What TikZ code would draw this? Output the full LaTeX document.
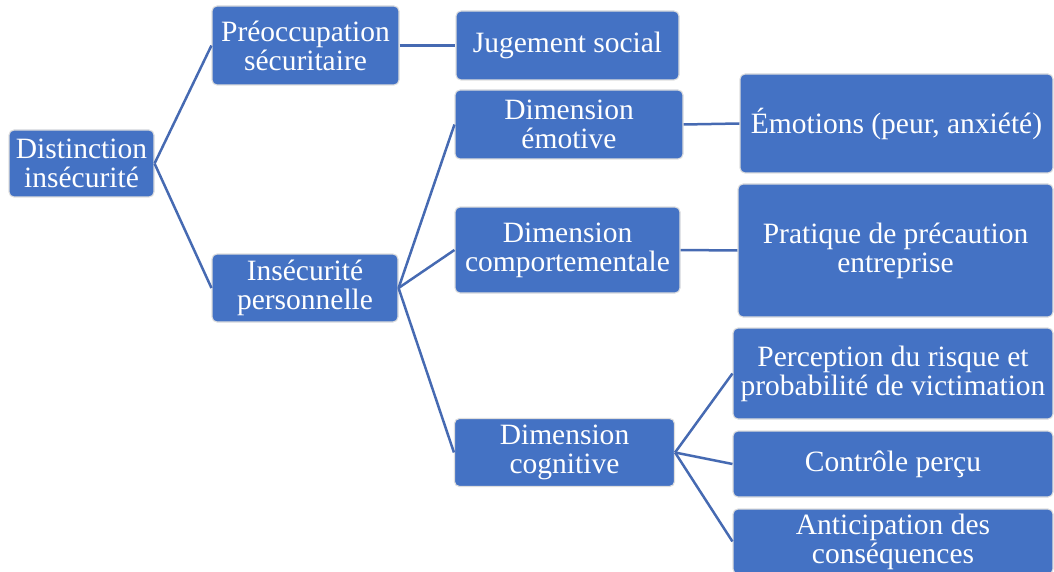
\documentclass[tikz,border=0pt]{standalone}
\usepackage{fontspec}
\setmainfont{Liberation Serif}
\definecolor{boxblue}{RGB}{68,114,196}
\definecolor{lineblue}{RGB}{70,106,178}
\definecolor{rimgray}{RGB}{222,222,222}
\begin{document}
\begin{tikzpicture}[x=1pt,y=-1pt,
  box/.style={draw=rimgray, line width=1.1pt, fill=boxblue, rounded corners=5pt,
    text=white, align=center, inner sep=2pt,
    font=\fontsize{29.5}{29}\selectfont},
  link/.style={draw=lineblue, line width=2.5pt}]
\useasboundingbox (0,0) rectangle (1054,572);
% column 1
\node[box, minimum width=145, minimum height=67] (dist) at (81.5,163.5) {Distinction\\insécurité};
% column 2
\node[box, minimum width=187, minimum height=79] (preo) at (305.5,45.5) {Préoccupation\\sécuritaire};
\node[box, minimum width=186, minimum height=68] (insp) at (305,288) {Insécurité\\personnelle};
% column 3
\node[box, minimum width=223, minimum height=69] (juge) at (567.5,45.5) {Jugement social};
\node[box, minimum width=228, minimum height=69] (demo) at (569,124.5) {Dimension\\émotive};
\node[box, minimum width=225, minimum height=86] (dcomp) at (567.5,250) {Dimension\\comportementale};
\node[box, minimum width=220, minimum height=68] (dcog) at (564.5,452.5) {Dimension\\cognitive};
% column 4
\node[box, minimum width=313, minimum height=99] (emo) at (896.5,123.5) {Émotions (peur, anxiété)};
\node[box, minimum width=315, minimum height=133] (prat) at (895.5,250.5) {Pratique de précaution\\entreprise};
\node[box, minimum width=320, minimum height=91] (perc) at (893,373.5) {Perception du risque et\\probabilité de victimation};
\node[box, minimum width=320, minimum height=66] (ctrl) at (893,464) {Contrôle perçu};
\node[box, minimum width=320, minimum height=65] (anti) at (893,541.5) {Anticipation des\\conséquences};
% connectors
\draw[link] (dist.east) -- (preo.west);
\draw[link] (dist.east) -- (insp.west);
\draw[link] (preo.east) -- (juge.west);
\draw[link] (insp.east) -- (demo.west);
\draw[link] (insp.east) -- (dcomp.west);
\draw[link] (insp.east) -- (dcog.west);
\draw[link] (demo.east) -- (emo.west);
\draw[link] (dcomp.east) -- (prat.west);
\draw[link] (dcog.east) -- (perc.west);
\draw[link] (dcog.east) -- (ctrl.west);
\draw[link] (dcog.east) -- (anti.west);
\end{tikzpicture}
\end{document}
